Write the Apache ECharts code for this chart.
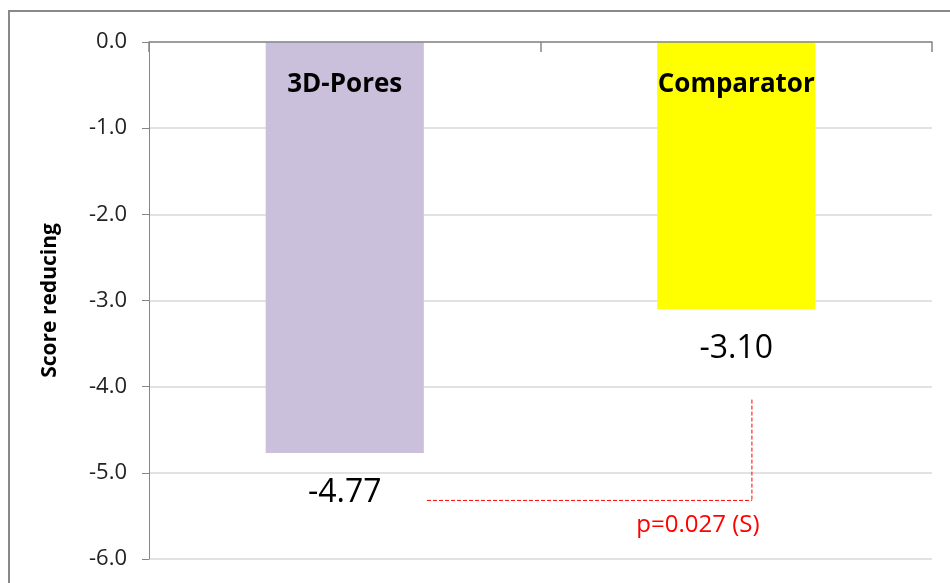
<!DOCTYPE html>
<html>
<head>
<meta charset="utf-8">
<script src="https://cdn.jsdelivr.net/npm/echarts@6/dist/echarts.min.js"></script>
<style>
  html, body { margin: 0; padding: 0; background: #fff; }
  #chart { width: 950px; height: 583px; }
</style>
</head>
<body>
<div id="chart"></div>
<script>
const categories = ['3D-Pores', 'Comparator']
const scores = [-4.77, -3.10]
const barColors = ['#CBC0DB', '#FFFF00']
const yTicks = [0, -1, -2, -3, -4, -5, -6]

// p-value bracket, in data units
const pText = 'p=0.027 (S)'
const bracketLow = -5.32
const bracketHigh = -4.15

const font = '"Open Sans", sans-serif'

const chart = echarts.init(document.getElementById('chart'))

const option = {
  animation: false,
  grid: { left: 149, right: 18, top: 42, bottom: 24, outerBoundsMode: 'none' },
  xAxis: {
    type: 'category',
    position: 'top',
    z: 5,
    data: categories,
    axisLine: { onZero: false, lineStyle: { color: '#868686', width: 1.5 } },
    axisTick: { show: true, inside: true, length: 10, lineStyle: { color: '#868686', width: 1.5 } },
    axisLabel: {
      inside: true,
      margin: 30,
      color: '#000',
      fontFamily: font,
      fontWeight: 'bold',
      fontSize: 26
    }
  },
  yAxis: {
    type: 'value',
    min: yTicks[yTicks.length - 1],
    max: yTicks[0],
    interval: 1,
    name: 'Score reducing',
    nameLocation: 'middle',
    nameGap: 88,
    nameTextStyle: { color: '#000', fontFamily: font, fontWeight: 'bold', fontSize: 21 },
    axisLine: { show: true, lineStyle: { color: '#868686' } },
    axisTick: { show: true, length: 7, lineStyle: { color: '#868686' } },
    axisLabel: {
      margin: 22,
      color: '#222',
      fontFamily: font,
      fontSize: 22,
      formatter: v => v.toFixed(1)
    },
    splitLine: { lineStyle: { color: '#D9D9D9', width: 1.5 } }
  },
  series: [{
    type: 'bar',
    barWidth: '40.4%',
    data: scores.map((v, i) => ({ value: v, itemStyle: { color: barColors[i] } })),
    label: {
      show: true,
      position: 'bottom',
      distance: 24,
      color: '#000',
      fontFamily: font,
      fontSize: 32,
      formatter: p => p.value.toFixed(2)
    }
  }]
}

chart.setOption(option)

// bracket drawn from the axis scales
const c0 = chart.convertToPixel({ gridIndex: 0 }, [0, bracketLow])
const c1 = chart.convertToPixel({ gridIndex: 0 }, [1, bracketLow])
const top1 = chart.convertToPixel({ gridIndex: 0 }, [1, bracketHigh])
const bandW = c1[0] - c0[0]
const x0 = c0[0] + bandW * 0.21
const x1 = c1[0] + bandW * 0.04
const dash = { stroke: '#FF0000', lineWidth: 1, lineDash: [4, 2] }

chart.setOption({
  graphic: [
    {
      type: 'rect',
      shape: { x: 9, y: 11, width: 960, height: 620 },
      style: { fill: 'none', stroke: '#898989', lineWidth: 2 },
      silent: true
    },
    { type: 'line', shape: { x1: x0, y1: c0[1], x2: x1, y2: c0[1] }, style: dash },
    { type: 'line', shape: { x1: x1, y1: top1[1], x2: x1, y2: c0[1] }, style: dash },
    {
      type: 'text',
      x: x1 - 54,
      y: c0[1] + 25,
      style: {
        text: pText,
        fill: '#FF0000',
        font: '24px ' + font,
        align: 'center',
        verticalAlign: 'middle'
      }
    }
  ]
})
</script>
</body>
</html>
